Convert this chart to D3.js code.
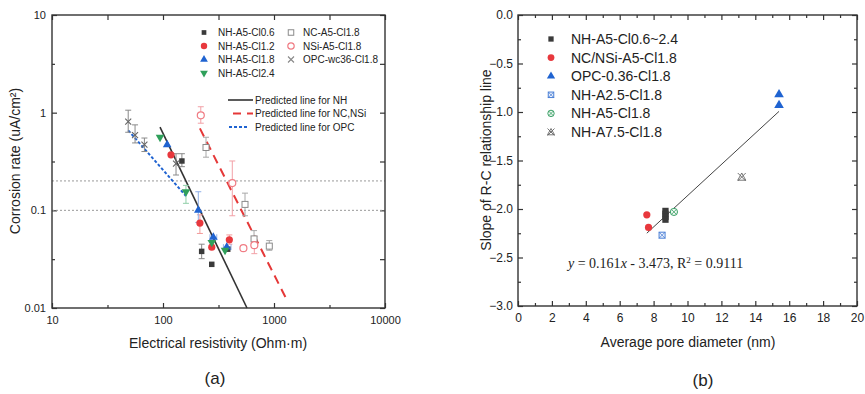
<!DOCTYPE html>
<html><head><meta charset="utf-8">
<script src="https://cdn.jsdelivr.net/npm/d3@7"></script>
<style>body{margin:0;background:#fff}svg{display:block}text{font-family:"Liberation Sans",Arial,sans-serif;fill:#222}</style>
</head><body><svg id="c" width="865" height="394"></svg>
<script>
// ---------- data (a): [resistivity, corrosion rate, errLow, errHigh, xErrLow, xErrHigh] ----------
const nhCl06 = [[148,0.32,0.28,0.38],[223,0.038,0.032,0.045],[275,0.028,null,null],[383,0.040,null,null]];
const nhCl12 = [[118,0.37,null,null],[215,0.074,0.058,0.09],[275,0.042,null,null],[396,0.050,0.045,0.056]];
const nhCl18 = [[109,0.47,null,null],[208,0.10,0.075,0.155],[284,0.053,null,null,265,305],[375,0.042,null,null,350,410]];
const nhCl24 = [[94,0.56,null,null],[161,0.155,0.118,0.18],[275,0.047,null,null],[362,0.039,null,null]];
const ncA5 = [[244,0.44,0.35,0.56],[548,0.115,0.088,0.15],[661,0.051,0.042,0.062],[907,0.043,0.039,0.049]];
const nsiA5 = [[219,0.94,0.78,1.15],[421,0.19,0.088,0.32],[530,0.041,null,null],[665,0.044,0.036,0.054]];
const opcWc36 = [[48.6,0.81,0.63,1.06],[56,0.59,0.49,0.75],[68,0.47,0.40,0.55],[131,0.30,0.23,0.38]];
const lineNH = [[94,0.71],[571,0.01]];
const lineNC = [[215,0.69],[1336,0.0115]];
const lineOPC = [[48.6,0.66],[161,0.14]];
const refLines = [0.2, 0.1];
const xTicksA = [10,100,1000,10000];
const yTicksA = [0.01,0.1,1,10];
const yTickLabelsA = ["0.01","0.1","1","10"];
// ---------- data (b): [average pore diameter, slope] ----------
const bNH = [[8.7,-2.02],[8.7,-2.05],[8.7,-2.08],[8.7,-2.11]];
const bNCNSi = [[7.6,-2.06],[7.7,-2.19]];
const bOPC = [[15.4,-0.82],[15.4,-0.93]];
const bA25 = [[8.5,-2.27]];
const bA5 = [[9.2,-2.03]];
const bA75 = [[13.2,-1.67]];
const fitSlope = 0.161, fitIntercept = -3.473, fitRange = [7.6,15.4];
const xTicksB = [0,2,4,6,8,10,12,14,16,18,20];
const yTicksB = [0,-0.5,-1,-1.5,-2,-2.5,-3];

const svg = d3.select("#c");
const AXC = "#333";

// ================= Plot (a) =================
const xA = d3.scaleLog().domain([10,10000]).range([52,385]);
const yA = d3.scaleLog().domain([0.01,10]).range([308,15]);
const gA = svg.append("g");

function styleAxis(g){ g.select(".domain").remove(); g.selectAll("line").attr("stroke",AXC).attr("stroke-width",1.2); g.selectAll("text").attr("fill","#222"); }

const minorXA = [10,100,1000].map(d=>d*Math.sqrt(10));
const minorYA = [0.01,0.1,1].map(d=>d*Math.sqrt(10));
gA.append("g").attr("transform","translate(0,308)").call(d3.axisBottom(xA).tickValues(xTicksA).tickFormat(d3.format("d")).tickSizeInner(-5).tickSizeOuter(0).tickPadding(8)).call(styleAxis).selectAll("text").style("font-size","11px");
gA.append("g").attr("transform","translate(0,308)").call(d3.axisBottom(xA).tickValues(minorXA).tickFormat("").tickSizeInner(-3).tickSizeOuter(0)).call(styleAxis);
gA.append("g").attr("transform","translate(0,15)").call(d3.axisTop(xA).tickValues(xTicksA.concat(minorXA)).tickFormat("").tickSizeInner(-5).tickSizeOuter(0)).call(styleAxis);
gA.append("g").attr("transform","translate(52,0)").call(d3.axisLeft(yA).tickValues(yTicksA).tickFormat((d,i)=>yTickLabelsA[i]).tickSizeInner(-5).tickSizeOuter(0).tickPadding(6)).call(styleAxis).selectAll("text").style("font-size","11px");
gA.append("g").attr("transform","translate(52,0)").call(d3.axisLeft(yA).tickValues(minorYA).tickFormat("").tickSizeInner(-3).tickSizeOuter(0)).call(styleAxis);
gA.append("g").attr("transform","translate(385,0)").call(d3.axisRight(yA).tickValues(yTicksA.concat(minorYA)).tickFormat("").tickSizeInner(-5).tickSizeOuter(0)).call(styleAxis);

// reference dotted lines
gA.selectAll(".ref").data(refLines).enter().append("line")
  .attr("x1",52).attr("x2",385).attr("y1",d=>yA(d)).attr("y2",d=>yA(d))
  .attr("stroke","#999").attr("stroke-width",1).attr("stroke-dasharray","2,2");

// frame
gA.append("rect").attr("x",52).attr("y",15).attr("width",333).attr("height",293).attr("fill","none").attr("stroke",AXC).attr("stroke-width",1.4);

// predicted lines
const lA = d3.line().x(d=>xA(d[0])).y(d=>yA(d[1]));
gA.append("path").datum(lineNH).attr("d",lA).attr("fill","none").attr("stroke","#333").attr("stroke-width",1.6);
gA.append("path").datum(lineNC).attr("d",lA).attr("fill","none").attr("stroke","#e53838").attr("stroke-width",2).attr("stroke-dasharray","9,6");
gA.append("path").datum(lineOPC).attr("d",lA).attr("fill","none").attr("stroke","#1f63d1").attr("stroke-width",2).attr("stroke-dasharray","3,2");

// error bars
function errBars(g, data, color){
  data.forEach(d=>{
    const x = xA(d[0]);
    if(d[2]!=null){
      g.append("line").attr("x1",x).attr("x2",x).attr("y1",yA(d[2])).attr("y2",yA(d[3])).attr("stroke",color).attr("stroke-width",1);
      [d[2],d[3]].forEach(v=>g.append("line").attr("x1",x-3).attr("x2",x+3).attr("y1",yA(v)).attr("y2",yA(v)).attr("stroke",color).attr("stroke-width",1));
    }
    if(d[4]!=null){
      const y = yA(d[1]);
      g.append("line").attr("x1",xA(d[4])).attr("x2",xA(d[5])).attr("y1",y).attr("y2",y).attr("stroke",color).attr("stroke-width",1);
      [d[4],d[5]].forEach(v=>g.append("line").attr("x1",xA(v)).attr("x2",xA(v)).attr("y1",y-3).attr("y2",y+3).attr("stroke",color).attr("stroke-width",1));
    }
  });
}
errBars(gA, opcWc36, "#8a8a8a");
errBars(gA, ncA5, "#a8a8a8");
errBars(gA, nsiA5, "#f2a0a6");
errBars(gA, nhCl06, "#888");
errBars(gA, nhCl12, "#f29a9a");
errBars(gA, nhCl18, "#8fb0e8");
errBars(gA, nhCl24, "#90cfa8");

// markers
const sym = (type,size)=>d3.symbol().type(type).size(size)();
function drawPts(g, data, xs, ys, drawFn){ data.forEach(d=>drawFn(g.append("g").attr("transform",`translate(${xs(d[0])},${ys(d[1])})`))); }
const mSquare = (c,s)=>g=>g.append("path").attr("d",sym(d3.symbolSquare,s)).attr("fill",c);
const mCircle = (c,r)=>g=>g.append("circle").attr("r",r).attr("fill",c);
const mTriUp = (c,s)=>g=>g.append("path").attr("d",sym(d3.symbolTriangle,s)).attr("fill",c);
const mTriDn = (c,s)=>g=>g.append("path").attr("d",sym(d3.symbolTriangle,s)).attr("fill",c).attr("transform","rotate(180)");
const mOpenSq = (c,s)=>g=>g.append("rect").attr("x",-s/2).attr("y",-s/2).attr("width",s).attr("height",s).attr("fill","#fff").attr("stroke",c).attr("stroke-width",1);
const mOpenCirc = (c,r)=>g=>g.append("circle").attr("r",r).attr("fill","#fff").attr("stroke",c).attr("stroke-width",1.2);
const mCross = (c,s)=>g=>g.append("path").attr("d",`M${-s},${-s}L${s},${s}M${-s},${s}L${s},${-s}`).attr("stroke",c).attr("stroke-width",1.1);

drawPts(gA, opcWc36, xA, yA, mCross("#666",3));
drawPts(gA, ncA5, xA, yA, mOpenSq("#8a8a8a",6));
drawPts(gA, nsiA5, xA, yA, mOpenCirc("#f07c84",3.5));
drawPts(gA, nhCl06, xA, yA, mSquare("#3a3a3a",30));
drawPts(gA, nhCl12, xA, yA, mCircle("#e8383d",3.6));
drawPts(gA, nhCl18, xA, yA, mTriUp("#1f63d1",32));
drawPts(gA, nhCl24, xA, yA, mTriDn("#2fa05a",32));

// legend (a)
const legA1 = [["NH-A5-Cl0.6",mSquare("#3a3a3a",22)],["NH-A5-Cl1.2",mCircle("#e8383d",3.2)],["NH-A5-Cl1.8",mTriUp("#1f63d1",26)],["NH-A5-Cl2.4",mTriDn("#2fa05a",26)]];
const legA2 = [["NC-A5-Cl1.8",mOpenSq("#8a8a8a",5.5)],["NSi-A5-Cl1.8",mOpenCirc("#f07c84",3.2)],["OPC-wc36-Cl1.8",mCross("#888",3)]];
legA1.forEach((d,i)=>{ const y=32.5+i*13.5; d[1](gA.append("g").attr("transform",`translate(204,${y})`)); gA.append("text").attr("x",218).attr("y",y+3.6).style("font-size","10px").text(d[0]); });
legA2.forEach((d,i)=>{ const y=32.5+i*13.5; d[1](gA.append("g").attr("transform",`translate(291,${y})`)); gA.append("text").attr("x",303).attr("y",y+3.6).style("font-size","10px").text(d[0]); });
const legLines = [["Predicted line for NH","#333",null,228,253,1.6],["Predicted line for NC,NSi","#e53838","8,6",233,253,2],["Predicted line for OPC","#1f63d1","3,2",229,247,2]];
legLines.forEach((d,i)=>{ const y=100+i*13.5; const ln=gA.append("line").attr("x1",d[3]).attr("x2",d[4]).attr("y1",y).attr("y2",y).attr("stroke",d[1]).attr("stroke-width",d[5]); if(d[2]) ln.attr("stroke-dasharray",d[2]); gA.append("text").attr("x",255).attr("y",y+3.6).style("font-size","10px").text(d[0]); });

// axis titles (a)
gA.append("text").attr("x",218).attr("y",348).attr("text-anchor","middle").style("font-size","14px").text("Electrical resistivity (Ohm·m)");
gA.append("text").attr("transform","translate(20,161) rotate(-90)").attr("text-anchor","middle").style("font-size","14px").text("Corrosion rate (uA/cm²)");
gA.append("text").attr("x",215).attr("y",384).attr("text-anchor","middle").style("font-size","17px").text("(a)");

// ================= Plot (b) =================
const xB = d3.scaleLinear().domain([0,20]).range([518,857]);
const yB = d3.scaleLinear().domain([-3,0]).range([306,15]);
const gB = svg.append("g");
const minorXB = d3.range(1,20,2);
const minorYB = d3.range(-2.75,0,0.5);
gB.append("g").attr("transform","translate(0,306)").call(d3.axisBottom(xB).tickValues(xTicksB).tickFormat(d3.format("d")).tickSizeInner(-5).tickSizeOuter(0).tickPadding(7)).call(styleAxis).selectAll("text").style("font-size","12px");
gB.append("g").attr("transform","translate(0,306)").call(d3.axisBottom(xB).tickValues(minorXB).tickFormat("").tickSizeInner(-3).tickSizeOuter(0)).call(styleAxis);
gB.append("g").attr("transform","translate(0,15)").call(d3.axisTop(xB).tickValues(xTicksB).tickFormat("").tickSizeInner(-5).tickSizeOuter(0)).call(styleAxis);
gB.append("g").attr("transform","translate(0,15)").call(d3.axisTop(xB).tickValues(minorXB).tickFormat("").tickSizeInner(-3).tickSizeOuter(0)).call(styleAxis);
gB.append("g").attr("transform","translate(518,0)").call(d3.axisLeft(yB).tickValues(yTicksB).tickFormat(d3.format(".1f")).tickSizeInner(-5).tickSizeOuter(0).tickPadding(5)).call(styleAxis).selectAll("text").style("font-size","12px");
gB.append("g").attr("transform","translate(518,0)").call(d3.axisLeft(yB).tickValues(minorYB).tickFormat("").tickSizeInner(-3).tickSizeOuter(0)).call(styleAxis);
gB.append("g").attr("transform","translate(857,0)").call(d3.axisRight(yB).tickValues(yTicksB).tickFormat("").tickSizeInner(-5).tickSizeOuter(0)).call(styleAxis);
gB.append("g").attr("transform","translate(857,0)").call(d3.axisRight(yB).tickValues(minorYB).tickFormat("").tickSizeInner(-3).tickSizeOuter(0)).call(styleAxis);
gB.append("rect").attr("x",518).attr("y",15).attr("width",339).attr("height",291).attr("fill","none").attr("stroke",AXC).attr("stroke-width",1.4);

// fit line
gB.append("path").datum(fitRange.map(x=>[x, fitSlope*x+fitIntercept])).attr("d",d3.line().x(d=>xB(d[0])).y(d=>yB(d[1]))).attr("fill","none").attr("stroke","#444").attr("stroke-width",1);

const mBoxX = (c,s)=>g=>{ g.append("rect").attr("x",-s/2).attr("y",-s/2).attr("width",s).attr("height",s).attr("fill","#eef3fc").attr("stroke",c).attr("stroke-width",1); g.append("path").attr("d",`M${-s/2},${-s/2}L${s/2},${s/2}M${-s/2},${s/2}L${s/2},${-s/2}`).attr("stroke",c).attr("stroke-width",0.8); };
const mCircX = (c,r)=>g=>{ g.append("circle").attr("r",r).attr("fill","#eef8f1").attr("stroke",c).attr("stroke-width",1); const k=r*0.7; g.append("path").attr("d",`M${-k},${-k}L${k},${k}M${-k},${k}L${k},${-k}`).attr("stroke",c).attr("stroke-width",0.8); };
const mStar = (c,s)=>g=>{ g.append("path").attr("d",`M${-s},${-s}L${s},${s}M${-s},${s}L${s},${-s}M0,${-s}L${s},${s*0.8}L${-s},${s*0.8}Z`).attr("stroke",c).attr("stroke-width",0.9).attr("fill","none"); };

drawPts(gB, bNH, xB, yB, mSquare("#3a3a3a",40));
drawPts(gB, bNCNSi, xB, yB, mCircle("#e8383d",3.6));
drawPts(gB, bOPC, xB, yB, mTriUp("#1f63d1",40));
drawPts(gB, bA25, xB, yB, mBoxX("#4a7fd6",6));
drawPts(gB, bA5, xB, yB, mCircX("#3aa066",3.6));
drawPts(gB, bA75, xB, yB, mStar("#666",4));

// legend (b)
const legB = [["NH-A5-Cl0.6~2.4",mSquare("#3a3a3a",28)],["NC/NSi-A5-Cl1.8",mCircle("#e8383d",3.4)],["OPC-0.36-Cl1.8",mTriUp("#1f63d1",30)],["NH-A2.5-Cl1.8",mBoxX("#4a7fd6",5.5)],["NH-A5-Cl1.8",mCircX("#3aa066",3.2)],["NH-A7.5-Cl1.8",mStar("#666",3.5)]];
legB.forEach((d,i)=>{ const y=39+i*18.6; d[1](gB.append("g").attr("transform",`translate(551,${y})`)); gB.append("text").attr("x",571).attr("y",y+5).style("font-size","14px").text(d[0]); });

// equation
const eq = gB.append("text").attr("x",568).attr("y",268).style("font-family","'Liberation Serif','Times New Roman',serif").style("font-size","14px");
eq.append("tspan").style("font-style","italic").text("y");
eq.append("tspan").text(" = 0.161");
eq.append("tspan").style("font-style","italic").text("x");
eq.append("tspan").text(" - 3.473, R");
eq.append("tspan").attr("dy",-5).style("font-size","9px").text("2");
eq.append("tspan").attr("dy",5).text(" = 0.9111");

gB.append("text").attr("x",688).attr("y",347).attr("text-anchor","middle").style("font-size","14px").text("Average pore diameter (nm)");
gB.append("text").attr("transform","translate(491,160) rotate(-90)").attr("text-anchor","middle").style("font-size","14px").text("Slope of R-C relationship line");
gB.append("text").attr("x",703).attr("y",386).attr("text-anchor","middle").style("font-size","17px").text("(b)");
</script></body></html>
